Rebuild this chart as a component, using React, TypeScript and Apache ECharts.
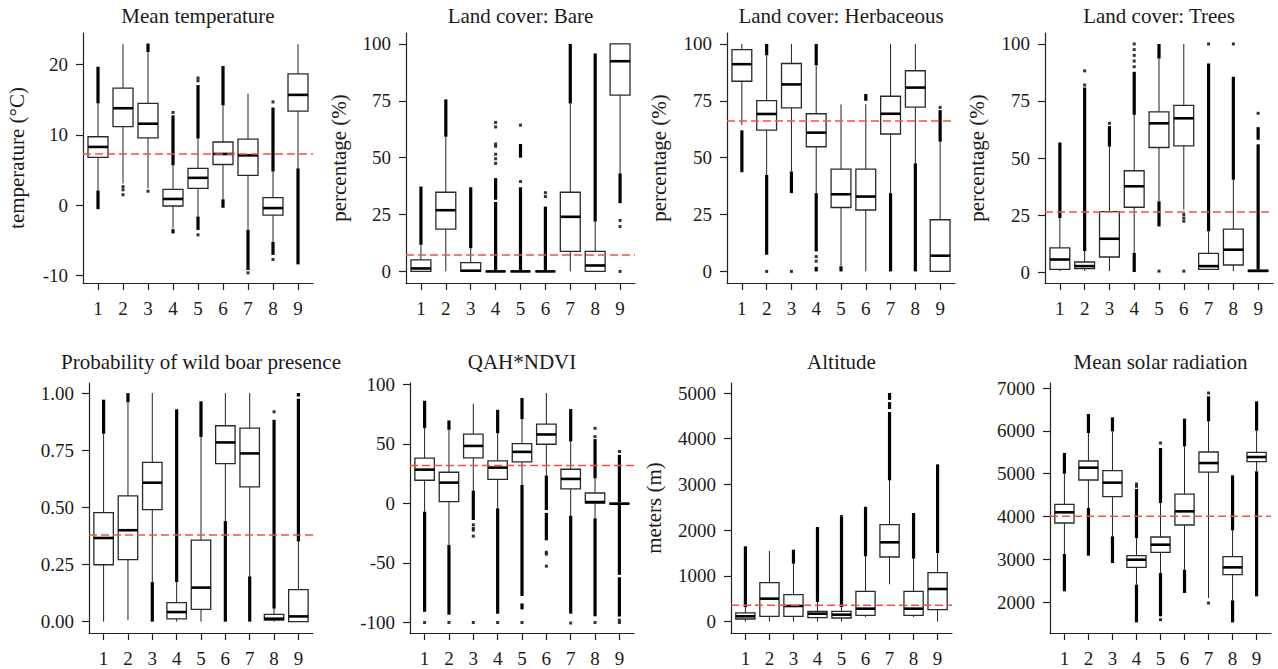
import React, { useEffect, useRef } from "react";
import * as echarts from "echarts";

// ---------- data ----------
const GROUPS = [1, 2, 3, 4, 5, 6, 7, 8, 9];

// box stats per group: [lower whisker, Q1, median, Q3, upper whisker]
const tempBoxes = [
  [2.1, 6.8, 8.3, 9.75, 14.5],
  [3.1, 11.2, 13.8, 16.66, 22.9],
  [2.4, 9.6, 11.6, 14.5, 21.8],
  [-3.3, -0.1, 0.9, 2.27, 5.7],
  [-1.6, 2.4, 3.9, 5.25, 9.5],
  [0.85, 5.8, 7.3, 9.0, 14.2],
  [-3.5, 4.25, 7.1, 9.4, 15.9],
  [-5.2, -1.4, -0.4, 1.1, 4.8],
  [5.25, 13.4, 15.7, 18.7, 22.9],
];
// dense outlier runs: [group, from, to]
const tempRuns = [
  [1, 14.5, 19.7], [1, -0.55, 2.1], [3, 21.8, 23.0], [4, 5.7, 12.8], [4, -4.0, -3.4],
  [5, 9.5, 17.1], [5, -3.5, -1.6], [6, 14.2, 19.8], [6, -0.35, 0.85], [7, -9.2, -3.5],
  [8, 4.8, 13.9], [8, -7.05, -5.2], [9, -8.4, 5.25],
];
// isolated outliers: [group, value]
const tempDots = [
  [2, 2.65], [2, 2.2], [2, 1.5], [3, 2.0], [4, 13.2], [5, 18.1], [5, 17.7], [5, -4.2],
  [7, -9.6], [8, 14.7], [8, -7.7],
];
const tempMean = 7.3;

const bareBoxes = [
  [0, 0, 1.3, 5.1, 11.7],
  [0, 18.6, 26.9, 34.8, 59.2],
  [0, 0, 0.3, 3.9, 10.2],
  [0, 0, 0, 0, 0],
  [0, 0, 0, 0, 0],
  [0, 0, 0, 0, 0],
  [0, 8.8, 24.0, 34.8, 73.8],
  [0, 0, 2.6, 8.8, 21.9],
  [43.1, 77.5, 92.4, 100, 100],
];
const bareRuns = [
  [1, 11.7, 37.3], [2, 59.2, 75.6], [3, 10.2, 37.0], [4, 0, 30.5], [4, 31.5, 41],
  [5, 0, 37], [5, 50, 56], [6, 0, 28.5], [7, 73.8, 100], [8, 21.9, 95.8], [9, 30, 43.1],
];
const bareDots = [
  [4, 47.5], [4, 49.5], [4, 51.5], [4, 55], [4, 56], [4, 63.5], [4, 65.5],
  [5, 39.5], [5, 64.3], [6, 32.9], [6, 34.6], [9, 22.4], [9, 19.7], [9, 0],
];
const bareMean = 7.2;

const herbBoxes = [
  [64.3, 83.6, 91.1, 97.5, 100],
  [42.4, 62.1, 69.2, 75.1, 95],
  [43.9, 71.9, 82.2, 91.4, 100],
  [34.4, 54.8, 61.0, 69.3, 90.6],
  [2.2, 28.1, 33.9, 45.0, 73.4],
  [0, 27.0, 32.9, 45.0, 73.5],
  [34.4, 60.4, 69.3, 77.0, 100],
  [47.5, 72.2, 80.8, 88.2, 100],
  [0, 0, 6.9, 22.7, 57],
];
const herbRuns = [
  [1, 43.6, 62], [2, 95, 100], [2, 7.3, 42.4], [3, 34.4, 43.9], [4, 90.6, 100],
  [4, 8.8, 34.4], [4, 0, 2], [5, 0, 2.2], [6, 75, 78], [7, 0, 34.4], [8, 0, 47.5],
  [9, 57, 70.9],
];
const herbDots = [[2, 0], [3, 0], [4, 6.5], [4, 4.5], [9, 72.1]];
const herbMean = 66.1;

const treeBoxes = [
  [0.4, 1.2, 5.5, 10.6, 23.7],
  [0.5, 1.5, 2.6, 4.4, 9.2],
  [0.4, 6.6, 14.6, 26.5, 55],
  [8.4, 28.4, 37.6, 44.4, 68.9],
  [31, 54.6, 65.2, 70.2, 93.6],
  [27.4, 55.3, 67.4, 73.1, 100],
  [0.9, 1.2, 2.6, 8.2, 17.9],
  [0.4, 3.1, 9.8, 18.8, 40.5],
  [0.2, 0.3, 0.5, 0.8, 1.2],
];
const treeRuns = [
  [1, 23.7, 56.8], [2, 9.2, 80.9], [3, 55, 64], [4, 68.9, 87.8], [4, 0, 8.4],
  [5, 93.6, 100], [5, 20, 31], [7, 17.9, 91.4], [8, 40.5, 85.6], [9, 1.2, 56],
  [9, 58, 63.5],
];
const treeDots = [
  [2, 82], [2, 88.2], [3, 65.2], [4, 90], [4, 92.5], [4, 95], [4, 97.5], [4, 100],
  [5, 0.4], [6, 25.2], [6, 23.7], [6, 22.3], [6, 0.4], [7, 100], [8, 100], [9, 69.6],
];
const treeMean = 26.3;

const boarBoxes = [
  [0, 0.249, 0.366, 0.477, 0.822],
  [0.006, 0.271, 0.4, 0.55, 0.96],
  [0.173, 0.49, 0.608, 0.697, 1.0],
  [0, 0.012, 0.042, 0.083, 0.173],
  [0, 0.054, 0.149, 0.357, 0.808],
  [0.44, 0.691, 0.784, 0.857, 1.0],
  [0.198, 0.59, 0.736, 0.847, 1.0],
  [0, 0.007, 0.013, 0.032, 0.057],
  [0, 0, 0.023, 0.14, 0.351],
];
const boarRuns = [
  [1, 0.822, 0.971], [2, 0.96, 1.0], [3, 0, 0.173], [4, 0.173, 0.929], [5, 0.808, 0.964],
  [6, 0, 0.44], [7, 0, 0.198], [8, 0.057, 0.883], [9, 0.351, 0.975], [9, 0.985, 1.0],
];
const boarDots = [[8, 0.918]];
const boarMean = 0.379;

const qahBoxes = [
  [-7, 19.4, 28.3, 37.9, 63.1],
  [-35, 1.4, 17.4, 26.1, 61.7],
  [10.7, 38.1, 48.2, 58.1, 83.6],
  [-4.2, 20.2, 30, 35.6, 58.9],
  [15.4, 34.8, 43.2, 50.2, 70.7],
  [23.3, 49.6, 57.8, 66.5, 92.6],
  [-10.4, 12.1, 20.5, 28.6, 51.9],
  [-12.6, 0.3, 1.1, 8.7, 21],
  [-1, -0.5, -0.3, 0, 1],
];
const qahRuns = [
  [1, 63.1, 86.1], [1, -91, -7], [2, 61.7, 69.6], [2, -93.4, -35], [3, -14, 10.7],
  [4, 58.9, 78.5], [4, -92.6, -4.2], [5, 70.7, 88.4], [5, -77.7, 15.4], [5, -89, -84],
  [6, -5.6, 23.3], [6, -31, -8], [7, 51.9, 79.1], [7, -92.6, -10.4], [8, 21, 53.9],
  [8, -94.8, -12.6], [9, 1, 40.7], [9, -60, -1], [9, -95, -62],
];
const qahDots = [
  [1, -100], [2, -100], [3, -18], [3, -21], [3, -22.5], [3, -27.5], [3, -100], [4, -100],
  [5, -100], [6, -41], [6, -42.6], [6, -52.7], [7, -100.4], [8, 56], [8, 63], [8, -100],
  [9, 43.5], [9, -98], [9, -100],
];
const qahMean = 31.7;

const altBoxes = [
  [0, 58, 117, 190, 320],
  [0, 117, 503, 853, 1545],
  [0, 117, 343, 590, 1268],
  [0, 87, 175, 226, 430],
  [0, 80, 153, 226, 320],
  [100, 138, 284, 663, 1429],
  [816, 1414, 1735, 2121, 3090],
  [100, 138, 284, 663, 1378],
  [0, 262, 714, 1071, 1501],
];
const altRuns = [
  [1, 320, 1647], [3, 1268, 1574], [4, 430, 2070], [5, 320, 2289], [6, 1429, 2507],
  [7, 3090, 4585], [7, 4650, 4800], [7, 4850, 5000], [8, 1378, 2376], [9, 1501, 3440],
];
const altDots = [[8, 2330], [6, 2480], [5, 2300]];
const altMean = 357;

const solarBoxes = [
  [3128, 3851, 4100, 4286, 5002],
  [4200, 4854, 5142, 5297, 5950],
  [3540, 4465, 4792, 5072, 5989],
  [2412, 2816, 2995, 3089, 3500],
  [2684, 3166, 3345, 3524, 4317],
  [2762, 3804, 4123, 4527, 5639],
  [2101, 5040, 5250, 5507, 6222],
  [2047, 2645, 2816, 3065, 3680],
  [5056, 5282, 5390, 5499, 6005],
];
const solarRuns = [
  [1, 5002, 5484], [1, 2257, 3128], [2, 5950, 6393], [2, 3089, 4200], [3, 5989, 6316],
  [3, 2918, 3540], [4, 3500, 4644], [4, 1533, 2412], [5, 4317, 5600], [5, 1673, 2684],
  [6, 5639, 6285], [6, 2218, 2762], [7, 6222, 6806], [8, 3680, 4963], [8, 1533, 2047],
  [9, 6005, 6689], [9, 2140, 5056],
];
const solarDots = [[4, 4706], [4, 4760], [5, 5717], [5, 1596], [7, 6883], [7, 1984]];
const solarMean = 4006;

// panel titles / axis titles / ticks
const TITLES = [
  "Mean temperature", "Land cover: Bare", "Land cover: Herbaceous", "Land cover: Trees",
  "Probability of wild boar presence", "QAH*NDVI", "Altitude", "Mean solar radiation",
];
const Y_NAMES = ["temperature (°C)", "percentage (%)", "percentage (%)", "percentage (%)", "", "", "meters (m)", ""];
const Y_TICKS = [
  [-10, 0, 10, 20],
  [0, 25, 50, 75, 100],
  [0, 25, 50, 75, 100],
  [0, 25, 50, 75, 100],
  [0, 0.25, 0.5, 0.75, 1.0],
  [-100, -50, 0, 50, 100],
  [0, 1000, 2000, 3000, 4000, 5000],
  [2000, 3000, 4000, 5000, 6000, 7000],
];
const Y_DECIMALS = [0, 0, 0, 0, 2, 0, 0, 0];
const Y_RANGES = [
  [-11.05, 24.5],
  [-5.1, 104.8],
  [-5.1, 104.8],
  [-4.8, 104.8],
  [-0.0496, 1.044],
  [-108.8, 101],
  [-248, 5219],
  [1285, 7117],
];
const X_RANGE = [0.4, 9.6];

const BOXES = [tempBoxes, bareBoxes, herbBoxes, treeBoxes, boarBoxes, qahBoxes, altBoxes, solarBoxes];
const RUNS = [tempRuns, bareRuns, herbRuns, treeRuns, boarRuns, qahRuns, altRuns, solarRuns];
const DOTS = [tempDots, bareDots, herbDots, treeDots, boarDots, qahDots, altDots, solarDots];
const MEANS = [tempMean, bareMean, herbMean, treeMean, boarMean, qahMean, altMean, solarMean];

// ---------- layout & style ----------
const LAYOUT = [
  { left: 83, top: 33, width: 230, height: 250, yTitleX: 17 },
  { left: 406, top: 33, width: 229, height: 250, yTitleX: 339 },
  { left: 727, top: 33, width: 228, height: 250, yTitleX: 659 },
  { left: 1045, top: 33, width: 228, height: 250, yTitleX: 977 },
  { left: 89, top: 383, width: 224, height: 250, yTitleX: 0 },
  { left: 410, top: 383, width: 224, height: 250, yTitleX: 0 },
  { left: 731, top: 383, width: 221, height: 250, yTitleX: 654 },
  { left: 1050, top: 383, width: 221, height: 250, yTitleX: 0 },
];
const TITLE_Y = [16, 362];
const FONT = '"Liberation Serif", "Times New Roman", serif';
const TEXT = "#1a1a1a";
const AXIS = "#222";
const RED = "#ef5246";
const BOX_W = 0.8;

function renderBox(_params: any, api: any) {
  const x = api.value(0);
  const lo = api.coord([x, api.value(1)]);
  const q1 = api.coord([x, api.value(2)]);
  const md = api.coord([x, api.value(3)]);
  const q3 = api.coord([x, api.value(4)]);
  const hi = api.coord([x, api.value(5)]);
  const hw = api.size([BOX_W, 0])[0] / 2;
  const cx = md[0];
  return {
    type: "group",
    children: [
      { type: "line", shape: { x1: cx, y1: lo[1], x2: cx, y2: q1[1] }, style: { stroke: "#222", lineWidth: 1 } },
      { type: "line", shape: { x1: cx, y1: q3[1], x2: cx, y2: hi[1] }, style: { stroke: "#222", lineWidth: 1 } },
      {
        type: "rect",
        shape: { x: cx - hw, y: q3[1], width: hw * 2, height: q1[1] - q3[1] },
        style: { fill: "#fff", stroke: "#2a2a2a", lineWidth: 1.3 },
      },
      { type: "line", shape: { x1: cx - hw, y1: md[1], x2: cx + hw, y2: md[1] }, style: { stroke: "#000", lineWidth: 2.6 } },
    ],
  };
}

function renderRun(_params: any, api: any) {
  const x = api.value(0);
  const a = api.coord([x, api.value(1)]);
  const b = api.coord([x, api.value(2)]);
  return {
    type: "line",
    shape: { x1: a[0], y1: a[1], x2: b[0], y2: b[1] },
    style: { stroke: "#000", lineWidth: 3.2, lineCap: "butt" },
  };
}

function buildOption() {
  const grid: any[] = [];
  const xAxis: any[] = [];
  const yAxis: any[] = [];
  const series: any[] = [];
  const graphic: any[] = [];
  const axisLineStyle = { color: AXIS, width: 1.2 };
  const labelStyle = { fontFamily: FONT, fontSize: 19, color: TEXT };

  TITLES.forEach((title, i) => {
    const L = LAYOUT[i];
    const dec = Y_DECIMALS[i];
    grid.push({ left: L.left, top: L.top, width: L.width, height: L.height, containLabel: false, outerBoundsMode: "none" });
    xAxis.push({
      type: "value",
      gridIndex: i,
      min: X_RANGE[0],
      max: X_RANGE[1],
      axisLine: { show: true, onZero: false, lineStyle: axisLineStyle },
      axisTick: { show: true, length: 7, customValues: GROUPS, lineStyle: axisLineStyle },
      axisLabel: { show: true, customValues: GROUPS, margin: 16, ...labelStyle },
      splitLine: { show: false },
    });
    yAxis.push({
      type: "value",
      gridIndex: i,
      min: Y_RANGES[i][0],
      max: Y_RANGES[i][1],
      axisLine: { show: true, onZero: false, lineStyle: axisLineStyle },
      axisTick: { show: true, length: 7, customValues: Y_TICKS[i], lineStyle: axisLineStyle },
      axisLabel: {
        show: true,
        customValues: Y_TICKS[i],
        margin: 15,
        formatter: (v: number) => (dec > 0 ? v.toFixed(dec) : String(Math.round(v))),
        ...labelStyle,
      },
      splitLine: { show: false },
    });
    series.push({
      type: "custom",
      xAxisIndex: i,
      yAxisIndex: i,
      renderItem: renderBox,
      data: GROUPS.map((g, k) => [g, ...BOXES[i][k]]),
      encode: { x: 0, y: [1, 2, 3, 4, 5] },
      silent: true,
      z: 2,
    });
    series.push({
      type: "custom",
      xAxisIndex: i,
      yAxisIndex: i,
      renderItem: renderRun,
      data: RUNS[i],
      encode: { x: 0, y: [1, 2] },
      silent: true,
      z: 3,
    });
    series.push({
      type: "scatter",
      xAxisIndex: i,
      yAxisIndex: i,
      data: DOTS[i],
      symbol: "rect",
      symbolSize: 3,
      itemStyle: { color: "#000" },
      silent: true,
      z: 3,
    });
    series.push({
      type: "line",
      xAxisIndex: i,
      yAxisIndex: i,
      data: [[X_RANGE[0], MEANS[i]], [X_RANGE[1], MEANS[i]]],
      symbol: "none",
      lineStyle: { color: RED, width: 1.5, type: [8, 4] },
      silent: true,
      z: 5,
    });
    graphic.push({
      type: "text",
      x: L.left + L.width / 2,
      y: TITLE_Y[i < 4 ? 0 : 1],
      style: {
        text: title,
        fill: TEXT,
        fontFamily: FONT,
        fontSize: 21,
        align: "center",
        verticalAlign: "middle",
        textAlign: "center",
        textVerticalAlign: "middle",
      },
    });
    if (Y_NAMES[i]) {
      graphic.push({
        type: "text",
        x: L.yTitleX,
        y: L.top + L.height / 2,
        rotation: Math.PI / 2,
        style: {
          text: Y_NAMES[i],
          fill: TEXT,
          fontFamily: FONT,
          fontSize: 21,
          align: "center",
          verticalAlign: "middle",
          textAlign: "center",
          textVerticalAlign: "middle",
        },
      });
    }
  });

  return {
    animation: false,
    backgroundColor: "#ffffff",
    textStyle: { fontFamily: FONT },
    grid,
    xAxis,
    yAxis,
    series,
    graphic,
  };
}

export default function App() {
  const ref = useRef<HTMLDivElement>(null);
  useEffect(() => {
    if (!ref.current) return;
    const chart = echarts.init(ref.current, undefined, { renderer: "svg" });
    chart.setOption(buildOption() as any);
    return () => chart.dispose();
  }, []);
  return (
    <div
      ref={ref}
      style={{ position: "fixed", left: 0, top: 0, width: 1278, height: 669, background: "#fff" }}
    />
  );
}
